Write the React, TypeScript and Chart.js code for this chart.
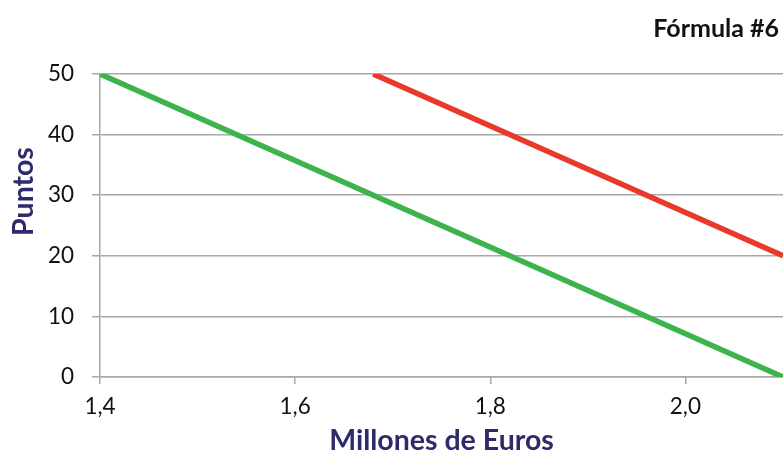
import { useEffect, useRef } from "react";
import { Chart, registerables } from "chart.js";

Chart.register(...registerables);

// Text
const chartTitle = "Fórmula #6";
const xAxisTitle = "Millones de Euros";
const yAxisTitle = "Puntos";

// Axes
const xTicks = [1.4, 1.6, 1.8, 2.0];
const yTicks = [0, 10, 20, 30, 40, 50];
const xRange = [1.4, 2.1];
const yRange = [0, 50];

// Series: two straight lines (millions of euros -> points)
const greenX = [1.4, 2.1];
const greenY = [50, 0];
const redX = [1.68, 2.1];
const redY = [50, 20];

const FONT = "Lato, 'Open Sans', sans-serif";
const GRID = "#a8a8a8";
const NAVY = "#2e2a6b";

const toPoints = (xs: number[], ys: number[]) => xs.map((x, i) => ({ x, y: ys[i] }));

// Draws the chart title and both axis titles
const titlesPlugin = {
  id: "titles",
  afterDraw(chart: any) {
    const { ctx, chartArea, width } = chart;
    ctx.save();
    ctx.textBaseline = "alphabetic";

    ctx.fillStyle = "#111111";
    ctx.font = `bold 25px ${FONT}`;
    ctx.textAlign = "right";
    ctx.fillText(chartTitle, width - 4, 37);

    ctx.fillStyle = NAVY;
    ctx.font = `bold 28.5px ${FONT}`;
    ctx.textAlign = "center";
    ctx.fillText(xAxisTitle, (chartArea.left + chartArea.right) / 2, 450);

    ctx.translate(33, chartArea.top + (chartArea.bottom - chartArea.top) * 0.388);
    ctx.rotate(-Math.PI / 2);
    ctx.fillText(yAxisTitle, 0, 0);
    ctx.restore();
  },
};

export default function App() {
  const canvasRef = useRef<HTMLCanvasElement | null>(null);

  useEffect(() => {
    if (!canvasRef.current) return;
    const tickFont = { family: FONT, size: 22.5 };
    const chart = new Chart(canvasRef.current, {
      type: "line",
      data: {
        datasets: [
          {
            data: toPoints(greenX, greenY),
            borderColor: "#3cb44b",
            borderWidth: 5.5,
            pointRadius: 0,
            borderCapStyle: "butt",
          },
          {
            data: toPoints(redX, redY),
            borderColor: "#e8392b",
            borderWidth: 5.5,
            pointRadius: 0,
            borderCapStyle: "butt",
          },
        ],
      },
      options: {
        animation: false,
        responsive: false,
        events: [],
        layout: { padding: { top: 74, right: 0, left: 0, bottom: 0 } },
        plugins: {
          legend: { display: false },
          title: { display: false },
          tooltip: { enabled: false },
        },
        scales: {
          x: {
            type: "linear",
            min: xRange[0],
            max: xRange[1],
            afterBuildTicks: (s: any) => {
              s.ticks = xTicks.map((value) => ({ value }));
            },
            afterFit: (s: any) => {
              s.height = 91;
            },
            grid: {
              drawOnChartArea: false,
              drawTicks: true,
              tickLength: 7,
              color: GRID,
              lineWidth: 1.5,
            },
            border: { display: true, color: GRID, width: 1.5 },
            ticks: {
              padding: 9,
              font: tickFont,
              color: "#111111",
              maxRotation: 0,
              autoSkip: false,
              callback: (v: any) => Number(v).toFixed(1).replace(".", ","),
            },
          },
          y: {
            type: "linear",
            min: yRange[0],
            max: yRange[1],
            afterBuildTicks: (s: any) => {
              s.ticks = yTicks.map((value) => ({ value }));
            },
            afterFit: (s: any) => {
              s.width = 100;
            },
            grid: {
              drawOnChartArea: true,
              drawTicks: true,
              tickLength: 8,
              color: GRID,
              lineWidth: 1.5,
            },
            border: { display: true, color: GRID, width: 1.5 },
            ticks: {
              padding: 18,
              font: tickFont,
              color: "#111111",
              callback: (v: any) => String(v),
            },
          },
        },
      },
      plugins: [titlesPlugin],
    } as any);
    return () => chart.destroy();
  }, []);

  return (
    <div style={{ position: "absolute", left: 0, top: 0, width: 783, height: 468, background: "#ffffff" }}>
      <canvas ref={canvasRef} width={783} height={468} style={{ display: "block" }} />
    </div>
  );
}
